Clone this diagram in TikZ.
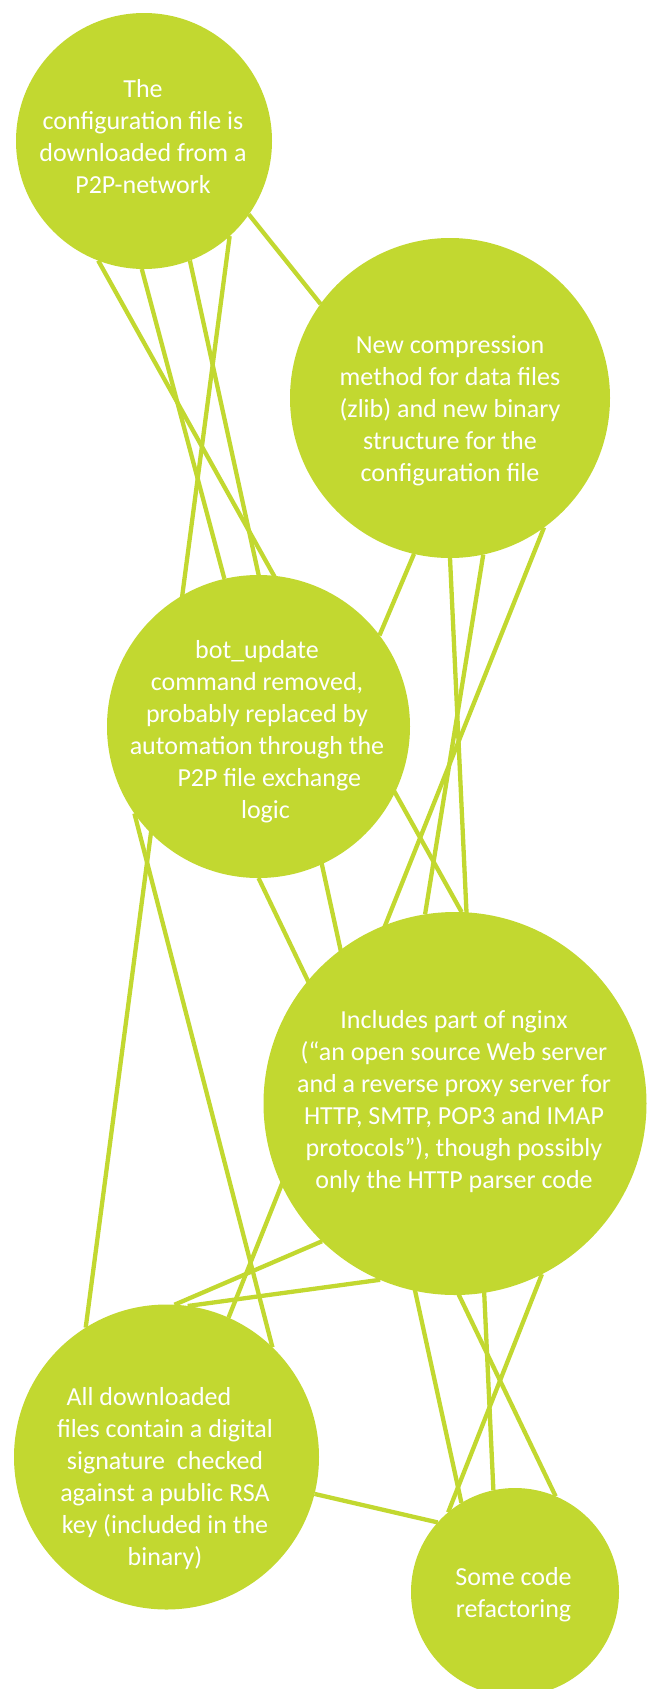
\documentclass[tikz,border=0pt]{standalone}
\usepackage{fontspec}
\setmainfont{Carlito}
\usetikzlibrary{backgrounds}
\definecolor{leaf}{RGB}{194,216,48}
\begin{document}
\begin{tikzpicture}[x=1pt,y=-1pt,
  bubble/.style={circle,fill=leaf,draw=none,inner sep=0pt,outer sep=0pt,minimum size=#1},
  link/.style={draw=leaf,line width=4.3pt},
  bubbletext/.style={text=white,align=center,anchor=base,inner sep=0pt,
    font=\fontsize{26}{32}\selectfont}]
\useasboundingbox (0,0) rectangle (650,1689);

% topic bubbles
\node[bubble=256pt] (c1) at (144,141) {};
\node[bubble=320pt] (c2) at (450,398) {};
\node[bubble=303pt] (c3) at (258.5,726.5) {};
\node[bubble=383pt] (c4) at (455,1103.5) {};
\node[bubble=305pt] (c5) at (166.5,1457) {};
\node[bubble=208pt] (c6) at (515,1592) {};

% connectors run underneath the bubbles
\begin{pgfonlayer}{background}
\draw[link] (c1.-35.7)  -- (c2.144.4);
\draw[link] (c1.-111.5) -- (c4.88.5);
\draw[link] (c1.-91)    -- (c3.103.4);
\draw[link] (c1.-69.7)  -- (c6.121.7);
\draw[link] (c1.-48.8)  -- (c5.122.3);
\draw[link] (c2.-103.4) -- (c3.37.4);
\draw[link] (c2.-90.7)  -- (c6.102.4);
\draw[link] (c2.-78)    -- (c4.99.6);
\draw[link] (c2.-54.2)  -- (c5.66.6);
\draw[link] (c3.-145.7) -- (c5.46.7);
\draw[link] (c3.-90.2)  -- (c6.67);
\draw[link] (c5.87.6)   -- (c4.-134.7);
\draw[link] (c5.82.3)   -- (c4.-113);
\draw[link] (c5.-14.5)  -- (c6.138.1);
\draw[link] (c4.-63.6)  -- (c6.130.3);
\end{pgfonlayer}

% bubble texts (anchored at the baseline of the last line)
\node[bubbletext] (t1) at (143,193.5)
  {The\\configuration file is\\downloaded from a\\P2P-network};
\node[bubbletext] (t2) at (450,481.5)
  {New compression\\method for data files\\(zlib) and new binary\\structure for the\\configuration file};
\node[bubbletext] (t3) at (257,818)
  {bot\_update\\command removed,\\probably replaced by\\automation through the\\\hspace*{24.5pt}P2P file exchange\\\hspace*{17pt}logic};
\node[bubbletext] (t4) at (454,1188)
  {Includes part of nginx\\(“an open source Web server\\and a reverse proxy server for\\HTTP, SMTP, POP3 and IMAP\\protocols”), though possibly\\only the HTTP parser code};
\node[bubbletext] (t5) at (165,1565)
  {All downloaded\hspace*{32pt}\\files contain a digital\\signature\ \ checked\\against a public RSA\\key (included in the\\binary)};
\node[bubbletext] (t6) at (513.5,1617)
  {Some code\\refactoring};
\end{tikzpicture}
\end{document}
